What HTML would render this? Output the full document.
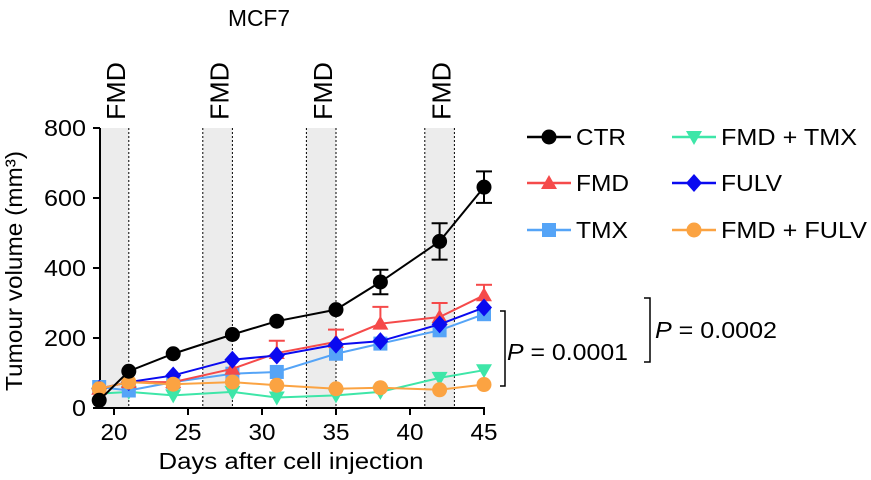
<!DOCTYPE html>
<html><head><meta charset="utf-8"><style>
body{margin:0;background:#fff;}
svg{display:block;font-family:"Liberation Sans",Arial,sans-serif;}
</style></head><body>
<svg id="chart" width="871" height="480" viewBox="0 0 871 480">
<text x="228" y="26" font-size="23" textLength="62" lengthAdjust="spacingAndGlyphs">MCF7</text>
<g id="bands"></g>
<g id="axes"></g>
<g id="series"></g>
<text transform="translate(22,271) rotate(-90)" font-size="23" text-anchor="middle" textLength="240" lengthAdjust="spacingAndGlyphs">Tumour volume (mm³)</text>
<text x="291" y="469" font-size="23" text-anchor="middle" textLength="265" lengthAdjust="spacingAndGlyphs">Days after cell injection</text>
<g id="legend"></g>
<g>
<path d="M500,311 H505 V386 H500" fill="none" stroke="#000" stroke-width="1.5"/>
<text x="507" y="360" font-size="23" textLength="121" lengthAdjust="spacingAndGlyphs"><tspan font-style="italic">P</tspan> = 0.0001</text>
</g>
<g>
<path d="M644,298 H650 V362 H644" fill="none" stroke="#000" stroke-width="1.5"/>
<text x="655" y="338" font-size="23" textLength="122" lengthAdjust="spacingAndGlyphs"><tspan font-style="italic">P</tspan> = 0.0002</text>
</g>
</svg>
<script>
const days=[19,21,24,28,31,35,38,42,45];
const ctr=[22,105,155,210,248,281,360,476,631];
const ctrErr=[0,0,0,0,0,0,35,52,45];
const fmd=[55,74,74,112,157,189,241,260,322];
const fmdErr=[0,0,0,0,35,35,48,40,30];
const tmx=[60,50,74,98,103,155,184,222,268];
const fulv=[55,74,93,138,150,181,191,239,287];
const fmdTmx=[41,46,36,46,30,36,46,86,108];
const fmdFulv=[55,74,68,74,65,55,58,52,67];
const bandStarts=[19,26,33,41];
const bandEnds=[21,28,35,43];
const yTicks=[0,200,400,600,800];
const xTicks=[20,25,30,35,40,45];
const NS="http://www.w3.org/2000/svg";
const X=d=>114+(d-20)*14.8;
const Y=v=>408-v*0.35;
function mk(tag,attrs,parent,text){const e=document.createElementNS(NS,tag);for(const k in attrs)e.setAttribute(k,attrs[k]);if(text!==undefined)e.textContent=text;parent.appendChild(e);return e;}
const bands=document.getElementById('bands');
bandStarts.forEach((s,i)=>{
 const r=mk('rect',{x:X(s),y:Y(800),width:X(bandEnds[i])-X(s),height:Y(0)-Y(800),fill:'#ececec'},bands);
 
 
 [s,bandEnds[i]].forEach(d=>{if(d>19)mk('line',{x1:X(d),x2:X(d),y1:Y(800),y2:Y(0),stroke:'#000','stroke-width':1,'stroke-dasharray':'2,2'},bands);});
 const cx=(X(s)+X(bandEnds[i]))/2;
 const t=mk('text',{transform:`translate(${cx+11},120) rotate(-90)`,'font-size':26,textLength:58,lengthAdjust:'spacingAndGlyphs'},bands,'FMD');
 
 
});
const axes=document.getElementById('axes');
mk('line',{x1:100,x2:100,y1:Y(800),y2:Y(0)+1,stroke:'#000','stroke-width':2},axes);
mk('line',{x1:99,x2:X(45)+1,y1:Y(0),y2:Y(0),stroke:'#000','stroke-width':2},axes);
yTicks.forEach(v=>{mk('line',{x1:93,x2:100,y1:Y(v),y2:Y(v),stroke:'#000','stroke-width':2},axes);
 const t=mk('text',{x:86,y:Y(v)+8,'font-size':23,'text-anchor':'end',textLength:String(v).length*14,lengthAdjust:'spacingAndGlyphs'},axes,v);
 
 });
xTicks.forEach(v=>{mk('line',{x1:X(v),x2:X(v),y1:Y(0),y2:Y(0)+7,stroke:'#000','stroke-width':2},axes);
 const t=mk('text',{x:X(v),y:440,'font-size':23,'text-anchor':'middle',textLength:27,lengthAdjust:'spacingAndGlyphs'},axes,v);
 
 });
function marker(g,shape,x,y,c){
 if(shape==='circle')mk('circle',{cx:x,cy:y,r:7.5,fill:c},g);
 else if(shape==='tri')mk('polygon',{points:`${x},${y-8} ${x+8},${y+6} ${x-8},${y+6}`,fill:c},g);
 else if(shape==='sq')mk('rect',{x:x-7,y:y-7,width:14,height:14,fill:c},g);
 else if(shape==='itri')mk('polygon',{points:`${x-8},${y-6} ${x+8},${y-6} ${x},${y+8}`,fill:c},g);
 else if(shape==='dia')mk('polygon',{points:`${x},${y-9} ${x+8},${y} ${x},${y+9} ${x-8},${y}`,fill:c},g);
}
const seriesG=document.getElementById('series');
const defs=[
 {name:'fmd-tmx',vals:fmdTmx,c:'#3ee6a8',s:'itri',label:'FMD + TMX',w:136},
 {name:'tmx',vals:tmx,c:'#55a4f7',s:'sq',label:'TMX',w:52},
 {name:'fmd',vals:fmd,err:fmdErr,c:'#f54a4a',s:'tri',label:'FMD',w:53},
 {name:'fulv',vals:fulv,c:'#0a0af0',s:'dia',label:'FULV',w:61},
 {name:'fmd-fulv',vals:fmdFulv,c:'#fba342',s:'circle',label:'FMD + FULV',w:146},
 {name:'ctr',vals:ctr,err:ctrErr,c:'#000',s:'circle',label:'CTR',w:50}
];
defs.forEach(d=>{
 const g=mk('g',{},seriesG);
 
 
 if(d.err)days.forEach((x,i)=>{if(d.err[i]>0){const up=d.name==='ctr';
  const y1=Y(d.vals[i]+d.err[i]),y2=up?Y(d.vals[i]-d.err[i]):Y(d.vals[i]);
  mk('line',{x1:X(x),x2:X(x),y1:y1,y2:y2,stroke:d.c,'stroke-width':2},g);
  mk('line',{x1:X(x)-8,x2:X(x)+8,y1:y1,y2:y1,stroke:d.c,'stroke-width':2},g);
  if(up)mk('line',{x1:X(x)-8,x2:X(x)+8,y1:y2,y2:y2,stroke:d.c,'stroke-width':2},g);}});
 mk('polyline',{points:days.map((x,i)=>X(x)+','+Y(d.vals[i])).join(' '),fill:'none',stroke:d.c,'stroke-width':2},g);
 days.forEach((x,i)=>marker(g,d.s,X(x),Y(d.vals[i]),d.c));
});
const legend=document.getElementById('legend');
const legOrder=[['ctr',527,137],['fmd',527,183],['tmx',527,230],['fmd-tmx',672,137],['fulv',672,183],['fmd-fulv',672,230]];
legOrder.forEach(([n,x,y])=>{const d=defs.find(e=>e.name===n);
 const g=mk('g',{},legend);
 
 
 mk('line',{x1:x,x2:x+44,y1:y,y2:y,stroke:d.c,'stroke-width':2.5},g);
 marker(g,d.s,x+22,y,d.c);
 mk('text',{x:x+49,y:y+8,'font-size':23,textLength:d.w,lengthAdjust:'spacingAndGlyphs'},g,d.label);
});
</script>
</body></html>
